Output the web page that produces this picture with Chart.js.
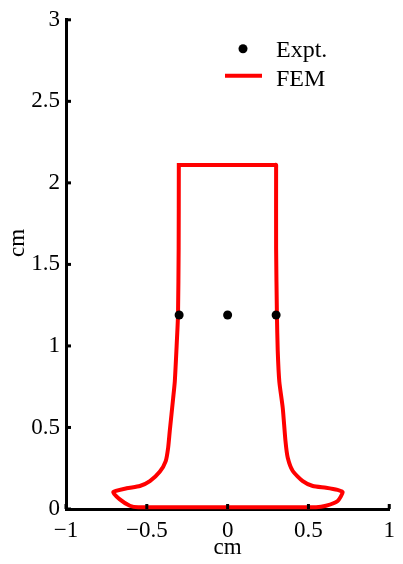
<!DOCTYPE html>
<html>
<head>
<meta charset="utf-8">
<script src="https://cdn.jsdelivr.net/npm/chart.js@4.4.1/dist/chart.umd.min.js"></script>
<style>
  body { margin: 0; background: #fff; }
  #wrap { width: 403px; height: 564px; }
</style>
</head>
<body>
<div id="wrap"><canvas id="shapeChart"></canvas></div>
<script>
// FEM outline (closed): top edge, right side, bottom, left side
const femX = [-0.302, -0.29, 0.29, 0.30, 0.30, 0.30, 0.305, 0.31, 0.32, 0.341, 0.358, 0.372, 0.403, 0.465, 0.527, 0.609, 0.68, 0.712,
  0.681, 0.609, 0.547, 0.0, -0.553, -0.605, -0.667, -0.708,
  -0.625, -0.543, -0.481, -0.42, -0.383, -0.368, -0.358, -0.337, -0.327, -0.317, -0.307, -0.303, -0.302, -0.302];
const femY = [2.11, 2.11, 2.11, 2.11, 2.09, 1.6, 1.19, 0.97, 0.78, 0.62, 0.416, 0.314, 0.233, 0.171, 0.141, 0.13, 0.117, 0.104,
  0.049, 0.02, 0.011, 0.011, 0.011, 0.02, 0.059, 0.104,
  0.127, 0.141, 0.171, 0.228, 0.294, 0.376, 0.478, 0.68, 0.78, 0.97, 1.19, 1.6, 2.09, 2.11];

// experimental points
const exptX = [-0.3, 0, 0.3];
const exptY = [1.19, 1.19, 1.19];

const xTicks = [-1, -0.5, 0, 0.5, 1];
const yTicks = [0, 0.5, 1, 1.5, 2, 2.5, 3];

const serif = 'Liberation Serif';

function pairs(xs, ys) {
  return xs.map((x, i) => ({ x: x, y: ys[i] }));
}

// inward tick marks, custom legend and axis titles
const decorations = {
  id: 'decorations',
  afterDatasetsDraw(chart) {
    const ctx = chart.ctx;
    const xs = chart.scales.x, ys = chart.scales.y;
    const area = chart.chartArea;
    ctx.save();
    ctx.fillStyle = '#000';
    xTicks.forEach(v => {
      const px = xs.getPixelForValue(v);
      ctx.fillRect(px - 1.5, area.bottom - 5, 3, 5);
    });
    yTicks.forEach(v => {
      const py = ys.getPixelForValue(v);
      ctx.fillRect(area.left, py - 1.5, 5, 3);
    });

    // legend
    const lx = area.left + 159;
    ctx.beginPath();
    ctx.arc(lx + 18, area.top + 29, 4.5, 0, Math.PI * 2);
    ctx.fill();
    ctx.strokeStyle = '#ff0000';
    ctx.lineWidth = 4;
    ctx.beginPath();
    ctx.moveTo(lx, area.top + 56);
    ctx.lineTo(lx + 37, area.top + 56);
    ctx.stroke();
    ctx.fillStyle = '#000';
    ctx.font = '24px "' + serif + '"';
    ctx.textAlign = 'left';
    ctx.textBaseline = 'alphabetic';
    ctx.fillText('Expt.', lx + 51, area.top + 37);
    ctx.fillText('FEM', lx + 51, area.top + 66);

    // axis titles
    ctx.font = '23px "' + serif + '"';
    ctx.textAlign = 'center';
    ctx.textBaseline = 'middle';
    ctx.fillText('cm', (area.left + area.right) / 2, 548);
    ctx.translate(18, 243);
    ctx.rotate(-Math.PI / 2);
    ctx.fillText('cm', 0, 0);
    ctx.restore();
  }
};

const minus = v => String(v).replace('-', '\u2212');

new Chart(document.getElementById('shapeChart'), {
  type: 'scatter',
  data: {
    datasets: [{
      label: 'Expt.',
      data: pairs(exptX, exptY),
      pointRadius: 4.5,
      pointBackgroundColor: '#000',
      pointBorderWidth: 0,
      showLine: false
    }, {
      label: 'FEM',
      data: pairs(femX, femY),
      showLine: true,
      borderColor: '#ff0000',
      borderWidth: 4,
      pointRadius: 0,
      tension: 0.2,
      borderJoinStyle: 'round',
      borderCapStyle: 'square',
      clip: false
    }]
  },
  options: {
    responsive: true,
    maintainAspectRatio: false,
    animation: false,
    layout: { padding: { top: 18, right: 13, left: 0, bottom: 0 } },
    plugins: { legend: { display: false }, tooltip: { enabled: false } },
    scales: {
      x: {
        type: 'linear',
        min: -1,
        max: 1,
        afterFit: s => { s.height = 55; },
        afterBuildTicks: s => { s.ticks = xTicks.map(v => ({ value: v })); },
        grid: { display: false, drawTicks: false },
        border: { display: true, width: 3, color: '#000' },
        ticks: {
          color: '#000',
          padding: 8,
          maxRotation: 0,
          font: { family: serif, size: 23 },
          callback: v => minus(v)
        }
      },
      y: {
        type: 'linear',
        min: 0,
        max: 3,
        afterFit: s => { s.width = 66; },
        afterBuildTicks: s => { s.ticks = yTicks.map(v => ({ value: v })); },
        grid: { display: false, drawTicks: false },
        border: { display: true, width: 3, color: '#000' },
        ticks: {
          color: '#000',
          padding: 6,
          font: { family: serif, size: 23 },
          callback: v => minus(v)
        }
      }
    }
  },
  plugins: [decorations]
});
</script>
</body>
</html>
